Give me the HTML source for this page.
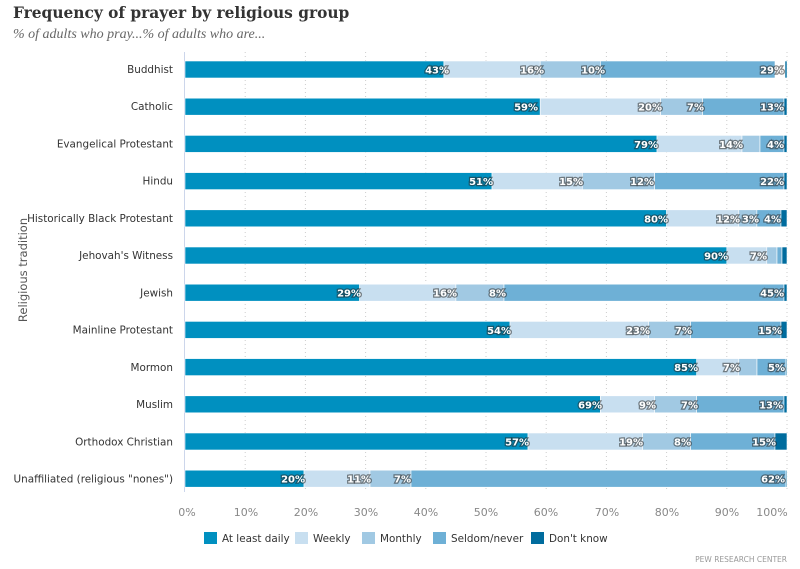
<!DOCTYPE html>
<html><head><meta charset="utf-8"><style>
body{margin:0;background:#fff;width:800px;height:569px;overflow:hidden}
svg{display:block}
.c{font-family:"DejaVu Sans","Liberation Sans",sans-serif;font-size:10.4px;fill:#333}
.v{font-family:"DejaVu Sans","Liberation Sans",sans-serif;font-size:10px;font-weight:bold;fill:#fff;stroke:rgba(40,40,40,.55);stroke-width:2.5px;paint-order:stroke;text-anchor:end}
.t{font-family:"DejaVu Sans","Liberation Sans",sans-serif;font-size:11px;fill:#888;text-anchor:middle}
.d{fill:#0090c0}.w{fill:#c8dff0}.m{fill:#a1c9e3}.s{fill:#6eb0d6}.k{fill:#006c9e}
.bar rect{stroke:#fff;stroke-width:0.6}
</style></head><body>
<svg width="800" height="569" xmlns="http://www.w3.org/2000/svg">
<text x="13" y="18" style="font-family:'DejaVu Serif','Liberation Serif',serif;font-weight:bold;font-size:15.4px;fill:#333">Frequency of prayer by religious group</text>
<text x="13" y="38" style="font-family:'Liberation Serif',serif;font-style:italic;font-size:14px;fill:#666">% of adults who pray...% of adults who are...</text>
<g stroke="#ccc" stroke-dasharray="1,3" stroke-width="1">
<line x1="245.2" y1="52" x2="245.2" y2="492"/><line x1="305.4" y1="52" x2="305.4" y2="492"/><line x1="365.6" y1="52" x2="365.6" y2="492"/><line x1="425.8" y1="52" x2="425.8" y2="492"/><line x1="486" y1="52" x2="486" y2="492"/><line x1="546.2" y1="52" x2="546.2" y2="492"/><line x1="606.4" y1="52" x2="606.4" y2="492"/><line x1="666.6" y1="52" x2="666.6" y2="492"/><line x1="726.8" y1="52" x2="726.8" y2="492"/><line x1="787" y1="52" x2="787" y2="492"/>
</g>
<line x1="184.5" y1="52" x2="184.5" y2="492" stroke="#ccd6eb" stroke-width="1"/>
<text transform="translate(27,270) rotate(-90)" class="c" style="font-size:11.5px;fill:#555;text-anchor:middle">Religious tradition</text>
<g class="c" text-anchor="end">
<text x="173" y="73">Buddhist</text>
<text x="173" y="110">Catholic</text>
<text x="173" y="147.5">Evangelical Protestant</text>
<text x="173" y="184.5">Hindu</text>
<text x="173" y="222">Historically Black Protestant</text>
<text x="173" y="259">Jehovah's Witness</text>
<text x="173" y="296.5">Jewish</text>
<text x="173" y="333.5">Mainline Protestant</text>
<text x="173" y="371">Mormon</text>
<text x="173" y="408">Muslim</text>
<text x="173" y="445.5">Orthodox Christian</text>
<text x="173" y="482.5">Unaffiliated (religious "nones")</text>
</g>
<g class="bar">
<g transform="translate(0,61)"><rect class="d" x="185" width="258.9" height="17"/><rect class="w" x="443.9" width="96.3" height="17"/><rect class="m" x="540.2" width="60.2" height="17"/><rect class="s" x="600.4" width="174.6" height="17"/><rect class="k" x="785" width="2" height="17"/></g>
<g transform="translate(0,98.2)"><rect class="d" x="185" width="355.2" height="17"/><rect class="w" x="540.2" width="120.4" height="17"/><rect class="m" x="660.6" width="42.1" height="17"/><rect class="s" x="702.7" width="81.3" height="17"/><rect class="k" x="784" width="3" height="17"/></g>
<g transform="translate(0,135.4)"><rect class="d" x="185" width="472" height="17"/><rect class="w" x="657" width="85" height="17"/><rect class="m" x="742" width="18" height="17"/><rect class="s" x="760" width="24" height="17"/><rect class="k" x="784" width="3" height="17"/></g>
<g transform="translate(0,172.6)"><rect class="d" x="185" width="307" height="17"/><rect class="w" x="492" width="90.3" height="17"/><rect class="m" x="582.3" width="72.3" height="17"/><rect class="s" x="654.6" width="129.4" height="17"/><rect class="k" x="784" width="3" height="17"/></g>
<g transform="translate(0,209.8)"><rect class="d" x="185" width="481.6" height="17"/><rect class="w" x="666.6" width="72.2" height="17"/><rect class="m" x="738.8" width="18.1" height="17"/><rect class="s" x="756.9" width="24.1" height="17"/><rect class="k" x="781" width="6" height="17"/></g>
<g transform="translate(0,247)"><rect class="d" x="185" width="541.8" height="17"/><rect class="w" x="726.8" width="40" height="17"/><rect class="m" x="766.8" width="10.2" height="17"/><rect class="s" x="777" width="5" height="17"/><rect class="k" x="782" width="5" height="17"/></g>
<g transform="translate(0,284.2)"><rect class="d" x="185" width="174.6" height="17"/><rect class="w" x="359.6" width="96.3" height="17"/><rect class="m" x="455.9" width="48.1" height="17"/><rect class="s" x="504" width="280" height="17"/><rect class="k" x="784" width="3" height="17"/></g>
<g transform="translate(0,321.4)"><rect class="d" x="185" width="325" height="17"/><rect class="w" x="510" width="138.5" height="17"/><rect class="m" x="648.5" width="42.2" height="17"/><rect class="s" x="690.7" width="90.3" height="17"/><rect class="k" x="781" width="6" height="17"/></g>
<g transform="translate(0,358.6)"><rect class="d" x="185" width="511.7" height="17"/><rect class="w" x="696.7" width="42.1" height="17"/><rect class="m" x="738.8" width="18.2" height="17"/><rect class="s" x="757" width="29" height="17"/><rect class="k" x="786" width="1" height="17"/></g>
<g transform="translate(0,395.8)"><rect class="d" x="185" width="415.4" height="17"/><rect class="w" x="600.4" width="54.2" height="17"/><rect class="m" x="654.6" width="42.1" height="17"/><rect class="s" x="696.7" width="87.3" height="17"/><rect class="k" x="784" width="3" height="17"/></g>
<g transform="translate(0,433)"><rect class="d" x="185" width="343" height="17"/><rect class="w" x="528" width="114.5" height="17"/><rect class="m" x="642.5" width="48.2" height="17"/><rect class="s" x="690.7" width="84.3" height="17"/><rect class="k" x="775" width="12" height="17"/></g>
<g transform="translate(0,470.2)"><rect class="d" x="185" width="119" height="17"/><rect class="w" x="304" width="66" height="17"/><rect class="m" x="370" width="41" height="17"/><rect class="s" x="411" width="375" height="17"/><rect class="k" x="786" width="1" height="17"/></g>
</g>
<g>
<text class="v" x="449" y="73.5">43%</text><text class="v" x="544" y="73.5">16%</text><text class="v" x="605" y="73.5">10%</text><text class="v" x="784" y="73.5">29%</text>
<text class="v" x="538" y="110.7">59%</text><text class="v" x="662" y="110.7">20%</text><text class="v" x="704" y="110.7">7%</text><text class="v" x="784" y="110.7">13%</text>
<text class="v" x="658" y="148">79%</text><text class="v" x="743" y="148">14%</text><text class="v" x="784" y="148">4%</text>
<text class="v" x="493" y="185">51%</text><text class="v" x="583" y="185">15%</text><text class="v" x="654" y="185">12%</text><text class="v" x="784" y="185">22%</text>
<text class="v" x="668" y="222.3">80%</text><text class="v" x="740" y="222.3">12%</text><text class="v" x="759" y="222.3">3%</text><text class="v" x="781" y="222.3">4%</text>
<text class="v" x="728" y="259.5">90%</text><text class="v" x="767" y="259.5">7%</text>
<text class="v" x="361" y="296.7">29%</text><text class="v" x="457" y="296.7">16%</text><text class="v" x="506" y="296.7">8%</text><text class="v" x="784" y="296.7">45%</text>
<text class="v" x="511" y="334">54%</text><text class="v" x="650" y="334">23%</text><text class="v" x="692" y="334">7%</text><text class="v" x="782" y="334">15%</text>
<text class="v" x="698" y="371">85%</text><text class="v" x="740" y="371">7%</text><text class="v" x="785" y="371">5%</text>
<text class="v" x="602" y="408.3">69%</text><text class="v" x="656" y="408.3">9%</text><text class="v" x="698" y="408.3">7%</text><text class="v" x="783" y="408.3">13%</text>
<text class="v" x="529" y="445.5">57%</text><text class="v" x="643" y="445.5">19%</text><text class="v" x="691" y="445.5">8%</text><text class="v" x="776" y="445.5">15%</text>
<text class="v" x="305" y="482.7">20%</text><text class="v" x="371" y="482.7">11%</text><text class="v" x="411" y="482.7">7%</text><text class="v" x="785" y="482.7">62%</text>
</g>
<g>
<text class="t" x="187" y="516">0%</text><text class="t" x="246" y="516">10%</text><text class="t" x="306" y="516">20%</text><text class="t" x="366" y="516">30%</text><text class="t" x="426" y="516">40%</text><text class="t" x="486" y="516">50%</text><text class="t" x="546" y="516">60%</text><text class="t" x="607" y="516">70%</text><text class="t" x="667" y="516">80%</text><text class="t" x="727" y="516">90%</text><text class="t" x="772" y="516">100%</text>
</g>
<g class="c" style="font-size:10.4px">
<rect class="d" x="204" y="532" width="13" height="12"/><text x="222" y="542">At least daily</text>
<rect class="w" x="295" y="532" width="13" height="12"/><text x="313" y="542">Weekly</text>
<rect class="m" x="362" y="532" width="13" height="12"/><text x="380" y="542">Monthly</text>
<rect class="s" x="433" y="532" width="13" height="12"/><text x="451" y="542">Seldom/never</text>
<rect class="k" x="531" y="532" width="13" height="12"/><text x="549" y="542">Don't know</text>
</g>
<text x="787" y="562" text-anchor="end" style="font-family:'DejaVu Sans','Liberation Sans',sans-serif;font-size:7.5px;fill:#999">PEW RESEARCH CENTER</text>
</svg>
</body></html>
